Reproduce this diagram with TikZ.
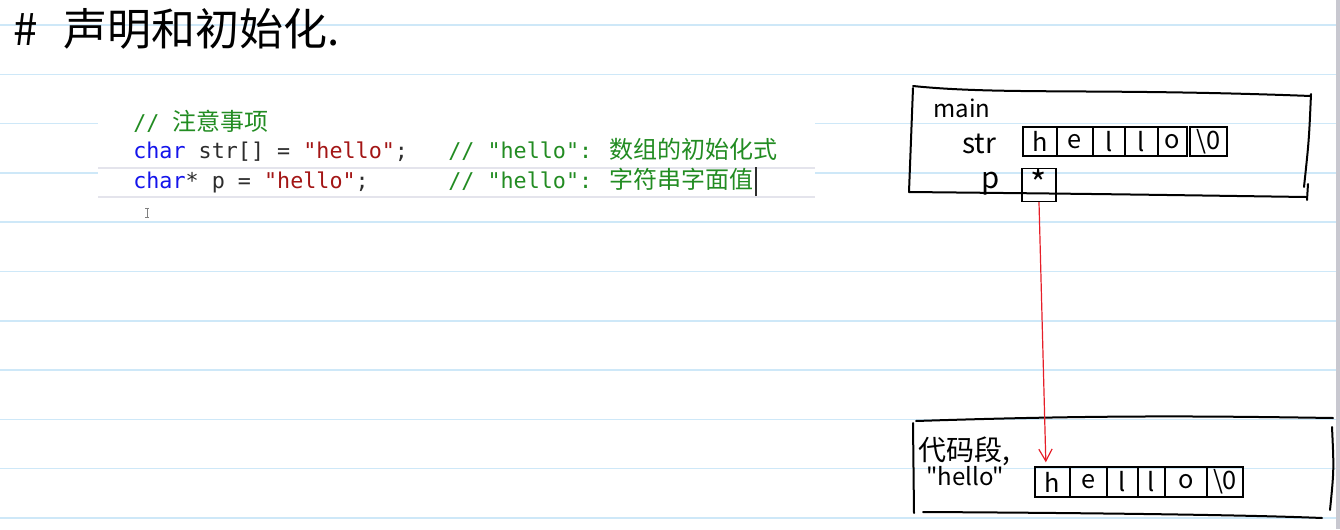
\documentclass[tikz,border=0pt]{standalone}
\usepackage{fontspec}
\usetikzlibrary{arrows.meta}
\newfontfamily\codefont{DejaVu Sans Mono}[Ligatures=TeXOff]
\newfontfamily\cjkfont{Noto Sans CJK SC}[Ligatures=TeXOff]
\definecolor{paperline}{RGB}{206,232,248}
\definecolor{edgegray}{RGB}{200,200,208}
\definecolor{edline}{RGB}{228,228,236}
\definecolor{kwblue}{RGB}{20,20,235}
\definecolor{strred}{RGB}{163,21,21}
\definecolor{cmtgreen}{RGB}{34,140,34}
\definecolor{plain}{RGB}{45,45,45}
\definecolor{ptrred}{RGB}{230,30,40}
\tikzset{
	every node/.style = {inner sep=0pt},
	hand/.style = {line width=1.5pt, line cap=round, black},
	cell/.style = {draw, line width=1.1pt, minimum height=21.75pt, font=\cjkfont\fontsize{19}{19}\selectfont},
	code/.style = {anchor=base west, font=\codefont\fontsize{16.3}{16.3}\selectfont},
	note/.style = {anchor=base west, font=\cjkfont\fontsize{#1}{#1}\selectfont},
	note/.default = 18,
	ptr/.style = {ptrred, line width=0.9pt, -{Straight Barb[length=9pt,width=10pt]}}
}
\newcommand{\cjkcmt}[1]{{\cjkfont\fontsize{18}{18}\selectfont #1}}

\begin{document}
\begin{tikzpicture}[x=0.75pt, y=-0.75pt]
		\useasboundingbox (0,0) rectangle (1340,529);
		% paper
		\foreach \k in {0,...,10}
			\draw[paperline, line width=1.1pt] (0,{25+49.3*\k}) -- (1336,{25+49.3*\k});
		\fill[edgegray] (1336,0) rectangle (1340,529);
		
		% title
		\node[note=33] (hash) at (13,45) {\#};
		\node[note=33] (title) at (63,45) {声明和初始化.};
		
		% code
		\fill[white] (98,80) rectangle (815,205);
		\draw[edline, line width=1pt] (98,168) -- (815,168);
		\draw[edline, line width=1pt] (98,197) -- (815,197);
		\node[code, cmtgreen] (l1) at (133,130) {// \cjkcmt{注意事项}};
		\node[code, plain] (l2) at (133,158) {{\color{kwblue}char} str[] = {\color{strred}"hello"};};
		\node[code, cmtgreen] (c2) at (448,158) {// "hello": \cjkcmt{数组的初始化式}};
		\node[code, plain] (l3) at (133,188) {{\color{kwblue}char}* p = {\color{strred}"hello"};};
		\node[code, cmtgreen] (c3) at (448,188) {// "hello": \cjkcmt{字符串字面值}};
		\draw[plain, line width=1pt] ([xshift=1.5pt,yshift=-6pt]c3.base east) -- ([xshift=1.5pt,yshift=16pt]c3.base east);
		\draw[gray, line width=0.6pt] (145,208) -- (149,208) (147,208) -- (147,217) (145,217) -- (149,217);
		
		% main
		\draw[hand] (913,86) .. controls (1000,95) and (1100,88) .. (1311,96);
		\draw[hand] (913,88) -- (909,192);
		\draw[hand] (909,192) .. controls (1100,194) .. (1306,197);
		\draw[hand] (1311,94) .. controls (1309,140) .. (1304,187);
		\draw[hand] (1308,184) -- (1307,200);
		\node[note] (main) at (933,117) {main};
		\node[note=21] (str) at (962,153) {str};
		\node[note=22] (p) at (981,188) {p};
		\foreach \a/\b/\ch [count=\i] in {1023/1057/h, 1057/1093/e, 1093/1125/l, 1125/1158/l, 1158/1187/o, 1190/1227/{\textbackslash 0}}
			\node[cell, minimum width={(\b-\a)*0.75pt}] (s\i) at ({(\a+\b)/2},141.5) {\ch};
		\node[cell, minimum width=25.5pt, minimum height=19.5pt, font=\cjkfont\fontsize{26}{26}\selectfont, text depth=4pt] (pcell) at (1039,185) {*};
		
		% code segment
		\draw[hand] (916,421) .. controls (1100,415) and (1200,416) .. (1333,418);
		\draw[hand] (913,423) -- (914,513);
		\draw[hand] (923,512) .. controls (1100,513) and (1250,515) .. (1322,518);
		\draw[hand] (1332,427) .. controls (1334,470) .. (1330,510);
		\node[note=21] (seg) at (918,460) {代码段,};
		\node[note] (lit) at (926,485) {"hello"};
		\foreach \a/\b/\ch [count=\i] in {1035/1070/h, 1070/1107/e, 1107/1138/l, 1138/1165/l, 1165/1207/o, 1207/1243/{\textbackslash 0}}
			\node[cell, minimum width={(\b-\a)*0.75pt}, minimum height=22.5pt] (c\i) at ({(\a+\b)/2},482) {\ch};
		
		% pointer
		\draw[ptr] (pcell.south) -- ([xshift=-5pt,yshift=3pt]c1.north);
	\end{tikzpicture}
\end{document}
